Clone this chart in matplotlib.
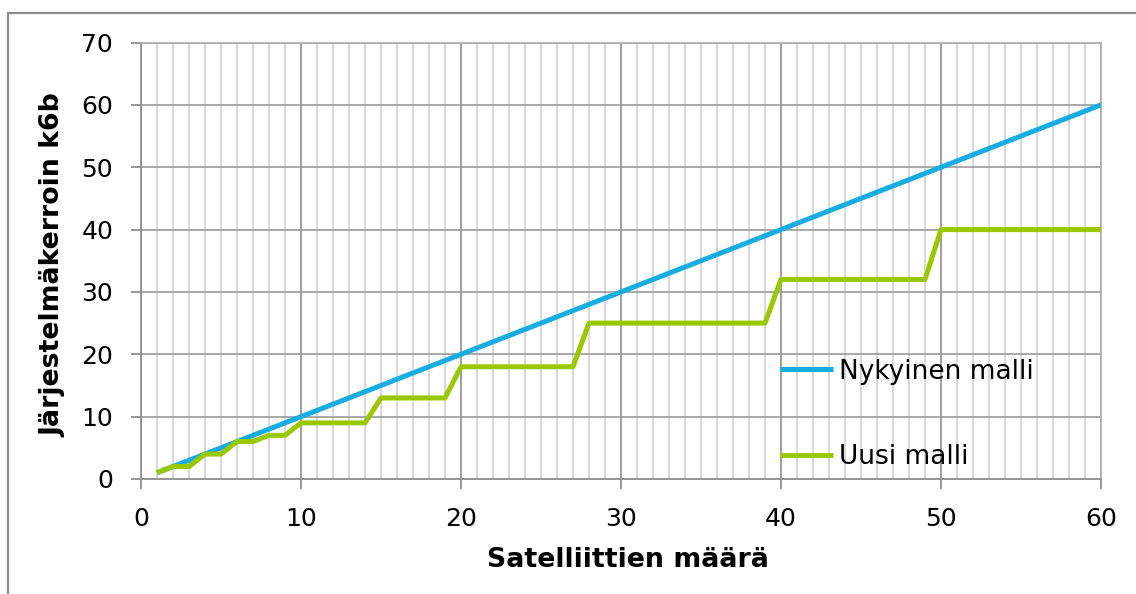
import matplotlib
matplotlib.use("Agg")
import matplotlib.pyplot as plt
from matplotlib.patches import Rectangle
from matplotlib.ticker import MultipleLocator

# Data
satellites = list(range(1, 61))
nykyinen = [1, 2, 3, 4, 5, 6, 7, 8, 9, 10,
            11, 12, 13, 14, 15, 16, 17, 18, 19, 20,
            21, 22, 23, 24, 25, 26, 27, 28, 29, 30,
            31, 32, 33, 34, 35, 36, 37, 38, 39, 40,
            41, 42, 43, 44, 45, 46, 47, 48, 49, 50,
            51, 52, 53, 54, 55, 56, 57, 58, 59, 60]
uusi = [1, 2, 2, 4, 4, 6, 6, 7, 7, 9,
        9, 9, 9, 9, 13, 13, 13, 13, 13, 18,
        18, 18, 18, 18, 18, 18, 18, 25, 25, 25,
        25, 25, 25, 25, 25, 25, 25, 25, 25, 32,
        32, 32, 32, 32, 32, 32, 32, 32, 32, 40,
        40, 40, 40, 40, 40, 40, 40, 40, 40, 40]
series_labels = ["Nykyinen malli", "Uusi malli"]
x_label = "Satelliittien määrä"
y_label = "Järjestelmäkerroin k6b"

plt.rcParams['font.family'] = ['DejaVu Sans']

W, H = 1136, 594
fig = plt.figure(figsize=(W / 100, H / 100), dpi=100)
fig.patch.set_facecolor('white')

# outer frame
fig.patches.append(Rectangle((8 / W, -0.05), 1.2, (H - 12.5) / H + 0.05,
                             transform=fig.transFigure, fill=False,
                             edgecolor='#8c8c8c', linewidth=1.6, zorder=0))

ax = fig.add_axes([141 / W, (H - 479) / H, 960 / W, 436.5 / H])

ax.plot(satellites, nykyinen, color='#17ADE0', linewidth=3.6,
        solid_capstyle='butt', solid_joinstyle='round', label=series_labels[0], zorder=3)
ax.plot(satellites, uusi, color='#99C700', linewidth=3.6,
        solid_capstyle='butt', solid_joinstyle='round', label=series_labels[1], zorder=4)

ax.set_xlim(0, 60)
ax.set_ylim(0, 70)
ax.xaxis.set_major_locator(MultipleLocator(10))
ax.xaxis.set_minor_locator(MultipleLocator(1))
ax.yaxis.set_major_locator(MultipleLocator(10))

ax.grid(which='minor', axis='x', color='#d2d2d2', linewidth=1.2, zorder=0)
ax.grid(which='major', axis='x', color='#8f8f8f', linewidth=1.2, zorder=1)
ax.grid(which='major', axis='y', color='#9a9a9a', linewidth=1.2, zorder=1)
ax.set_axisbelow(True)

for s in ['left', 'bottom']:
    ax.spines[s].set_color('#8f8f8f')
    ax.spines[s].set_linewidth(1.3)
for s in ['top', 'right']:
    ax.spines[s].set_color('#b0b0b0')
    ax.spines[s].set_linewidth(1.3)

ax.tick_params(axis='both', which='major', direction='out', length=7,
               width=1.3, color='#8f8f8f', labelsize=18, pad=13,
               labelcolor='black')
ax.tick_params(axis='x', which='minor', length=0)

ax.set_xlabel(x_label, fontsize=19.3, fontweight='bold')
ax.set_ylabel(y_label, fontsize=19.3, fontweight='bold')
ax.xaxis.set_label_coords(0.507, -0.156)
ax.yaxis.set_label_coords(-0.0775, 0.49)

leg = ax.legend(loc='upper left', bbox_to_anchor=(0.6656, 0.276), frameon=False,
                fontsize=19, handlelength=2.0, handletextpad=0.25,
                labelspacing=2.25, borderpad=0, borderaxespad=0)

fig.savefig('out.png', dpi=100, facecolor='white')
